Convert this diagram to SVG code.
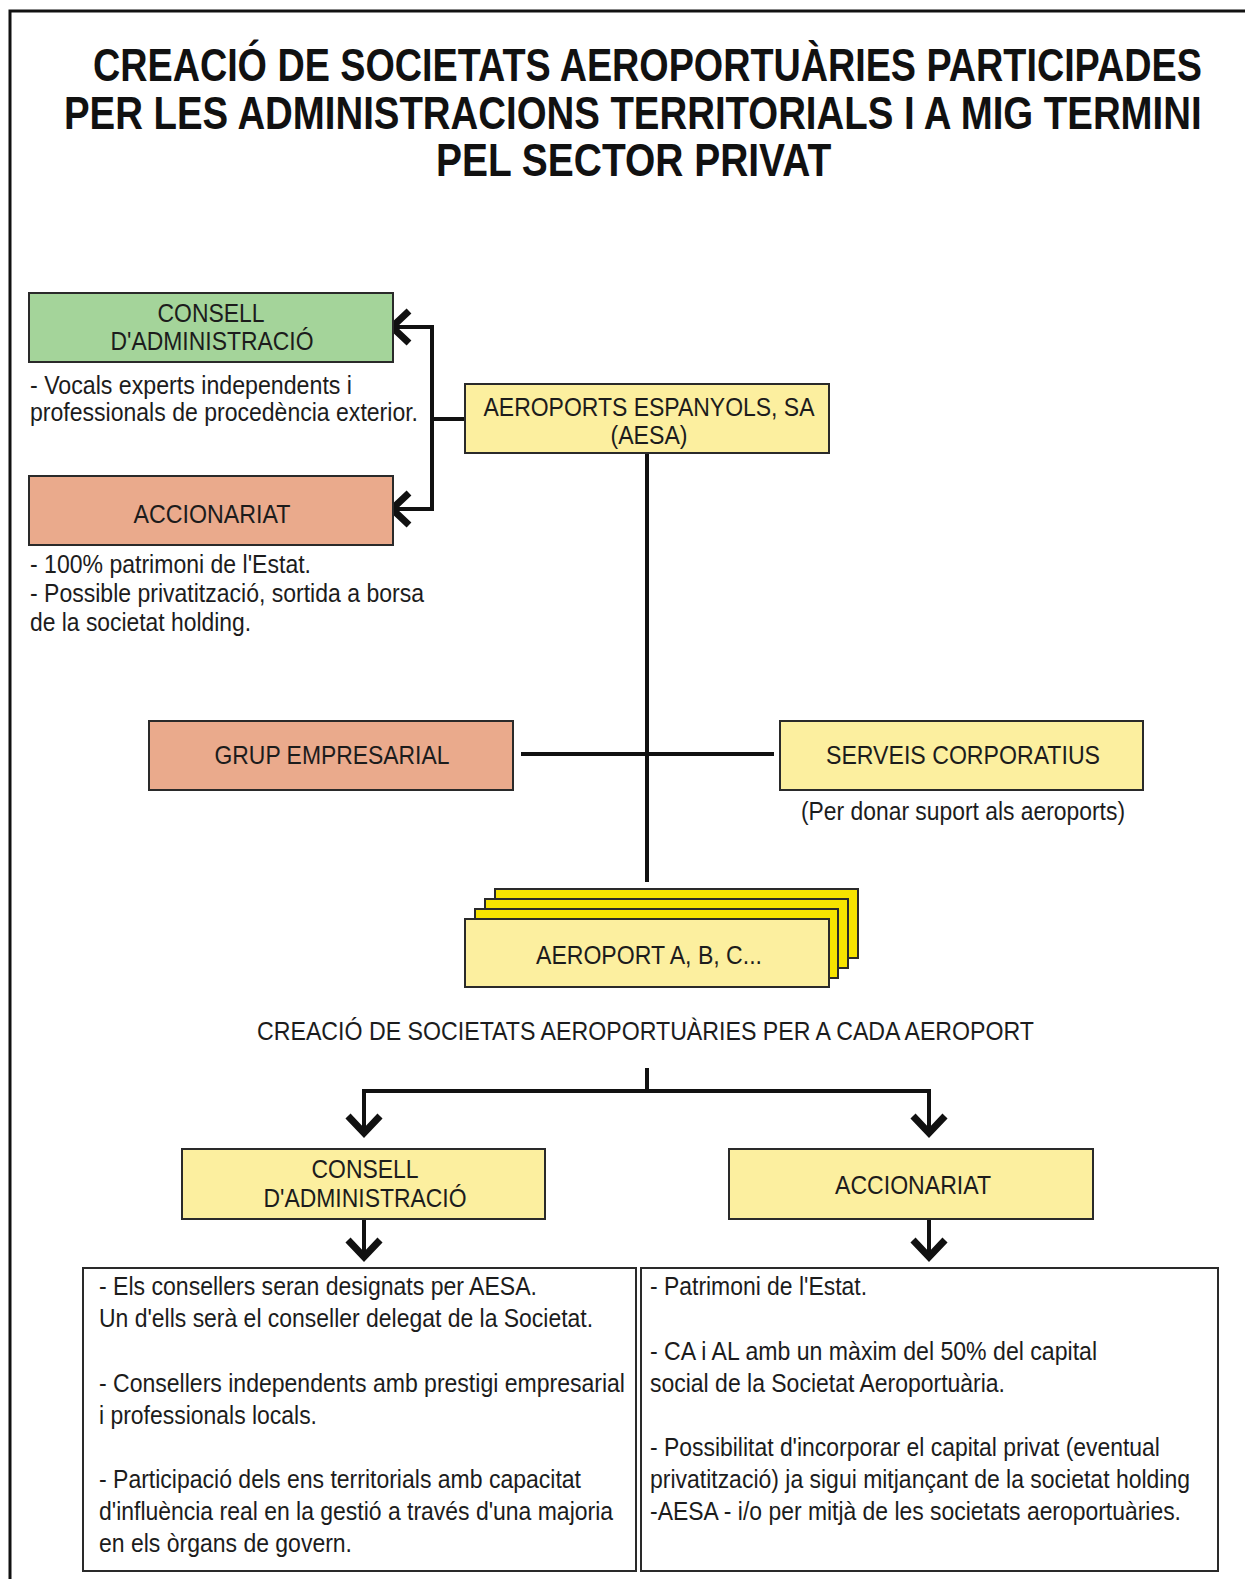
<svg xmlns="http://www.w3.org/2000/svg" width="1245" height="1579" viewBox="0 0 1245 1579">
<style>
text{font-family:"Liberation Sans",Arial,sans-serif;fill:#1c1c1c;}
.title{font-size:46px;font-weight:bold;fill:#111;}
.lbl{font-size:25px;text-anchor:middle;}
.body{font-size:26px;}
.box{stroke:#2a2a2a;stroke-width:2;}
.green{fill:#a4d49a;}
.salmon{fill:#eaaa8c;}
.pale{fill:#fcef9f;}
.bright{fill:#f6e300;}
.white{fill:#ffffff;}
.line{stroke:#111;stroke-width:4;fill:none;}
.chev{stroke:#111;stroke-width:7;fill:none;stroke-linejoin:miter;stroke-linecap:butt;}
</style>
<rect width="1245" height="1579" fill="#ffffff"/>
<path d="M10 1579 L10 11 L1245 11" fill="none" stroke="#111" stroke-width="3"/>

<g id="title">
<text class="title" transform="translate(93,81) scale(0.8,1)" x="0" y="0" textLength="1386" lengthAdjust="spacingAndGlyphs">CREACIÓ DE SOCIETATS AEROPORTUÀRIES PARTICIPADES</text>
<text class="title" transform="translate(64,129) scale(0.8,1)" x="0" y="0" textLength="1422" lengthAdjust="spacingAndGlyphs">PER LES ADMINISTRACIONS TERRITORIALS I A MIG TERMINI</text>
<text class="title" transform="translate(436,176) scale(0.8,1)" x="0" y="0" textLength="494" lengthAdjust="spacingAndGlyphs">PEL SECTOR PRIVAT</text>
</g>

<g id="connectors">
<line class="line" x1="391" y1="327" x2="434" y2="327"/>
<line class="line" x1="391" y1="509" x2="434" y2="509"/>
<line class="line" x1="432" y1="325" x2="432" y2="511"/>
<line class="line" x1="432" y1="419" x2="465" y2="419"/>
<polyline class="chev" points="409,311 392,327 409,343"/>
<polyline class="chev" points="409,493 392,509 409,525"/>
<line class="line" x1="647" y1="453" x2="647" y2="882"/>
<line class="line" x1="521" y1="754" x2="774" y2="754"/>
<line class="line" x1="647" y1="1068" x2="647" y2="1091"/>
<polyline class="line" points="364,1130 364,1091 929,1091 929,1130"/>
<polyline class="chev" points="348,1116 364,1133 380,1116"/>
<polyline class="chev" points="913,1116 929,1133 945,1116"/>
<line class="line" x1="364" y1="1219" x2="364" y2="1255"/>
<line class="line" x1="929" y1="1219" x2="929" y2="1255"/>
<polyline class="chev" points="348,1240 364,1257 380,1240"/>
<polyline class="chev" points="913,1240 929,1257 945,1240"/>
</g>

<g id="consell-top">
<rect class="box green" x="29" y="293" width="364" height="69"/>
<text class="lbl" x="211" y="322" textLength="107" lengthAdjust="spacingAndGlyphs">CONSELL</text>
<text class="lbl" x="212" y="350" textLength="203" lengthAdjust="spacingAndGlyphs">D'ADMINISTRACIÓ</text>
</g>
<g id="consell-top-note">
<text class="body" x="30" y="394" textLength="322" lengthAdjust="spacingAndGlyphs">- Vocals experts independents i</text>
<text class="body" x="30" y="421" textLength="388" lengthAdjust="spacingAndGlyphs">professionals de procedència exterior.</text>
</g>

<g id="accionariat-top">
<rect class="box salmon" x="29" y="476" width="364" height="69"/>
<text class="lbl" x="212" y="523" textLength="157" lengthAdjust="spacingAndGlyphs">ACCIONARIAT</text>
</g>
<g id="accionariat-top-note">
<text class="body" x="30" y="573" textLength="281" lengthAdjust="spacingAndGlyphs">- 100% patrimoni de l'Estat.</text>
<text class="body" x="30" y="602" textLength="394" lengthAdjust="spacingAndGlyphs">- Possible privatització, sortida a borsa</text>
<text class="body" x="30" y="631" textLength="221" lengthAdjust="spacingAndGlyphs">de la societat holding.</text>
</g>

<g id="aesa">
<rect class="box pale" x="465" y="384" width="364" height="69"/>
<text class="lbl" x="649" y="416" textLength="331" lengthAdjust="spacingAndGlyphs">AEROPORTS ESPANYOLS, SA</text>
<text class="lbl" x="649" y="444" textLength="77" lengthAdjust="spacingAndGlyphs">(AESA)</text>
</g>

<g id="grup">
<rect class="box salmon" x="149" y="721" width="364" height="69"/>
<text class="lbl" x="332" y="764" textLength="235" lengthAdjust="spacingAndGlyphs">GRUP EMPRESARIAL</text>
</g>

<g id="serveis">
<rect class="box pale" x="780" y="721" width="363" height="69"/>
<text class="lbl" x="963" y="764" textLength="274" lengthAdjust="spacingAndGlyphs">SERVEIS CORPORATIUS</text>
<text class="lbl" x="963" y="820" style="font-size:26px" textLength="324" lengthAdjust="spacingAndGlyphs">(Per donar suport als aeroports)</text>
</g>

<g id="aeroport">
<rect class="box bright" x="495" y="889" width="363" height="69"/>
<rect class="box bright" x="485" y="899" width="363" height="69"/>
<rect class="box bright" x="475" y="909" width="363" height="69"/>
<rect class="box pale" x="465" y="919" width="364" height="68"/>
<text class="lbl" x="649" y="964" textLength="226" lengthAdjust="spacingAndGlyphs">AEROPORT A, B, C...</text>
</g>

<g id="creacio-label">
<text class="body" x="257" y="1040" textLength="777" lengthAdjust="spacingAndGlyphs">CREACIÓ DE SOCIETATS AEROPORTUÀRIES PER A CADA AEROPORT</text>
</g>

<g id="consell-bottom">
<rect class="box pale" x="182" y="1149" width="363" height="70"/>
<text class="lbl" x="365" y="1178" textLength="107" lengthAdjust="spacingAndGlyphs">CONSELL</text>
<text class="lbl" x="365" y="1207" textLength="203" lengthAdjust="spacingAndGlyphs">D'ADMINISTRACIÓ</text>
</g>

<g id="accionariat-bottom">
<rect class="box pale" x="729" y="1149" width="364" height="70"/>
<text class="lbl" x="913" y="1194" textLength="156" lengthAdjust="spacingAndGlyphs">ACCIONARIAT</text>
</g>

<g id="consell-details">
<rect class="box white" x="83" y="1268" width="553" height="303"/>
<text class="body" transform="translate(99,1295) scale(0.88,1)" textLength="497.7" lengthAdjust="spacingAndGlyphs">- Els consellers seran designats per AESA.</text>
<text class="body" transform="translate(99,1327) scale(0.88,1)" textLength="561.4" lengthAdjust="spacingAndGlyphs">Un d'ells serà el conseller delegat de la Societat.</text>
<text class="body" transform="translate(99,1392) scale(0.88,1)" textLength="597.7" lengthAdjust="spacingAndGlyphs">- Consellers independents amb prestigi empresarial</text>
<text class="body" transform="translate(99,1424) scale(0.88,1)" textLength="247.7" lengthAdjust="spacingAndGlyphs">i professionals locals.</text>
<text class="body" transform="translate(99,1488) scale(0.88,1)" textLength="547.7" lengthAdjust="spacingAndGlyphs">- Participació dels ens territorials amb capacitat</text>
<text class="body" transform="translate(99,1520) scale(0.88,1)" textLength="584.1" lengthAdjust="spacingAndGlyphs">d'influència real en la gestió a través d'una majoria</text>
<text class="body" transform="translate(99,1552) scale(0.88,1)" textLength="287.5" lengthAdjust="spacingAndGlyphs">en els òrgans de govern.</text>
</g>

<g id="accionariat-details">
<rect class="box white" x="641" y="1268" width="577" height="303"/>
<text class="body" transform="translate(650,1295) scale(0.88,1)" textLength="246.6" lengthAdjust="spacingAndGlyphs">- Patrimoni de l'Estat.</text>
<text class="body" transform="translate(650,1360) scale(0.88,1)" textLength="508" lengthAdjust="spacingAndGlyphs">- CA i AL amb un màxim del 50% del capital</text>
<text class="body" transform="translate(650,1392) scale(0.88,1)" textLength="403.4" lengthAdjust="spacingAndGlyphs">social de la Societat Aeroportuària.</text>
<text class="body" transform="translate(650,1456) scale(0.88,1)" textLength="579.5" lengthAdjust="spacingAndGlyphs">- Possibilitat d'incorporar el capital privat (eventual</text>
<text class="body" transform="translate(650,1488) scale(0.88,1)" textLength="613.6" lengthAdjust="spacingAndGlyphs">privatització) ja sigui mitjançant de la societat holding</text>
<text class="body" transform="translate(650,1520) scale(0.88,1)" textLength="603.4" lengthAdjust="spacingAndGlyphs">-AESA - i/o per mitjà de les societats aeroportuàries.</text>
</g>
</svg>
